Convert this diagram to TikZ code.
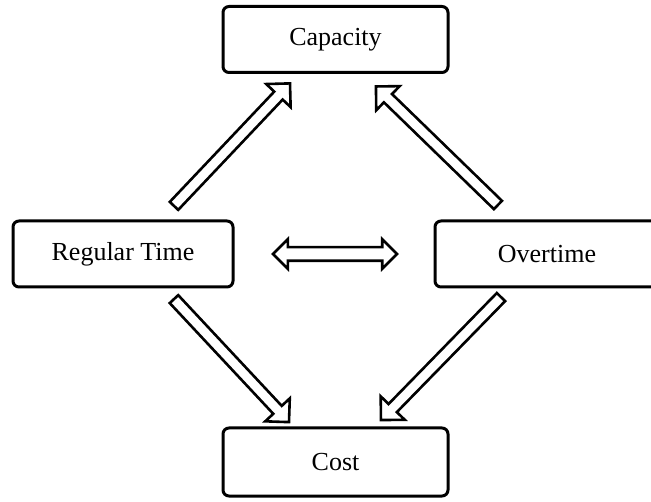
\documentclass[tikz,border=0pt]{standalone}
\usepackage{fontspec}
\setmainfont{Liberation Serif}
\usetikzlibrary{shapes.arrows,calc}
\begin{document}
\begin{tikzpicture}[x=1pt,y=1pt,
  box/.style={draw, line width=3pt, rounded corners=6pt, outer sep=0pt,
    minimum width=225pt, minimum height=66pt, inner sep=0pt,
    font=\fontsize{26}{30}\selectfont},
  hollowarrow/.style={single arrow, draw, line width=2.6pt,
    inner xsep=0pt, inner ysep=4.5pt, text height=0pt, text depth=0pt,
    single arrow head extend=11pt,
    single arrow tip angle=90, sloped, allow upside down, anchor=center},
  bothways/.style={double arrow, draw, line width=2.6pt,
    inner xsep=0pt, inner ysep=5.5pt, text height=0pt, text depth=0pt,
    double arrow head extend=8pt,
    double arrow tip angle=90, anchor=center}]
\useasboundingbox (0,0) rectangle (651,501);
\clip (0,0) rectangle (651,501);

% the four quantities
\node[box] (cap)  at (335.5,461.5) {Capacity};
\node[box, minimum width=220pt] (rt) at (123,247) {Regular Time};
\node[box, minimum width=224pt] (ot) at (547,247) {Overtime};
\node[box, minimum height=68pt] (cost) at (335.5,39) {Cost};

% arrow ends, kept clear of the boxes
\coordinate (ulA) at ($(rt.north)+(49,13)$);
\coordinate (ulB) at ($(cap.south)+(-47.5,-13)$);
\coordinate (urA) at ($(ot.north)+(-47,14)$);
\coordinate (urB) at ($(cap.south)+(42.5,-16)$);
\coordinate (llA) at ($(rt.south)+(49,-10)$);
\coordinate (llB) at ($(cost.north)+(-48.5,8)$);
\coordinate (lrA) at ($(ot.south)+(-44,-8)$);
\coordinate (lrB) at ($(cost.north)+(47.5,10)$);
\coordinate (midA) at ($(rt.east)+(40,0)$);
\coordinate (midB) at ($(ot.west)+(-38,0)$);

% hollow arrows between the boxes
\foreach \a/\b in {ulA/ulB, urA/urB, llA/llB, lrA/lrB}{
  \path let \p1=(\a), \p2=(\b), \n1={veclen(\x2-\x1,\y2-\y1)} in
    (\a) -- (\b) node[hollowarrow, midway, minimum height=\n1] {};
}
\path let \p1=(midA), \p2=(midB), \n1={veclen(\x2-\x1,\y2-\y1)} in
  (midA) -- (midB) node[bothways, midway, minimum height=\n1] {};
\end{tikzpicture}
\end{document}
